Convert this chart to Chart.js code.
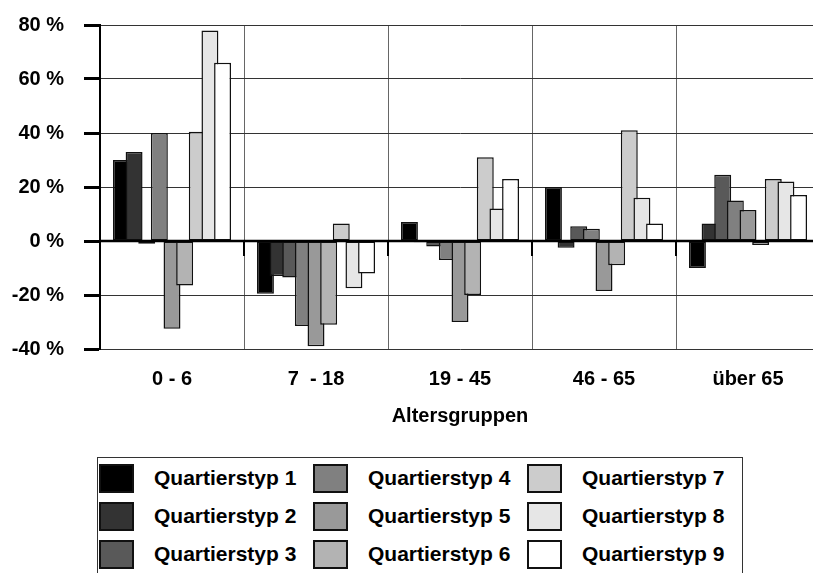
<!DOCTYPE html>
<html lang="de">
<head>
<meta charset="utf-8">
<title>Altersgruppen nach Quartierstyp</title>
<script src="https://cdn.jsdelivr.net/npm/chart.js@4/dist/chart.umd.min.js"></script>
<style>
  html, body {
    margin: 0;
    width: 813px;
    height: 573px;
    overflow: hidden;
    background: #fff;
    font-family: "Liberation Sans", Arial, Helvetica, sans-serif;
  }
  #wrap { position: relative; width: 813px; height: 573px; }
  #chart { position: absolute; left: 0; top: 0; }
  #legend {
    position: absolute;
    left: 97px;
    top: 457px;
    width: 646px;
    height: 130px;
    box-sizing: border-box;
    border: 1px solid #333;
    padding: 1px 0 0 1px;
    display: grid;
    grid-template-columns: repeat(3, 214px);
    grid-template-rows: repeat(3, 38px);
    grid-auto-flow: column;
  }
  .item { display: flex; align-items: center; }
  .swatch {
    width: 35px;
    height: 29px;
    box-sizing: border-box;
    border: 2px solid #111;
    margin-right: 20px;
  }
  .item span { font-weight: bold; font-size: 21px; color: #000; }
</style>
</head>
<body>
<div id="wrap">
  <canvas id="chart" width="840" height="428"></canvas>
  <div id="legend"></div>
</div>
<script>
// Altersgruppen (x axis)
const ageGroups = ["0 - 6", "7  - 18", "19 - 45", "46 - 65", "über 65"];

// Quartierstypen and their grey shades
const typeNames = [
  "Quartierstyp 1", "Quartierstyp 2", "Quartierstyp 3",
  "Quartierstyp 4", "Quartierstyp 5", "Quartierstyp 6",
  "Quartierstyp 7", "Quartierstyp 8", "Quartierstyp 9"
];
const typeColors = [
  "#000000", "#333333", "#595959",
  "#808080", "#999999", "#b3b3b3",
  "#cccccc", "#e6e6e6", "#ffffff"
];

// change in percent per Quartierstyp, one value per age group
const type1 = [30, -19.5, 7, 20, -10];
const type2 = [33, -13, -0.5, -2.5, 6.5];
const type3 = [-1, -13.5, -2, 5.5, 24.5];
const type4 = [40, -31.5, -7, 4.5, 15];
const type5 = [-32.5, -39, -30, -18.5, 11.5];
const type6 = [-16.5, -31, -20, -9, -1.5];
const type7 = [40.5, 6.5, 31, 41, 23];
const type8 = [78, -17.5, 12, 16, 22];
const type9 = [66, -12, 23, 6.5, 17];
const typeValues = [type1, type2, type3, type4, type5, type6, type7, type8, type9];

// y axis ticks
const yMin = -40;
const yMax = 80;
const yStep = 20;

// bars overlap like the spreadsheet original, later series on top;
// the zero line with its short tick marks is drawn over the bars
const overlapPlugin = {
  id: "overlapOrder",
  beforeDatasetsDraw(chart) {
    const ctx = chart.ctx;
    const area = chart.chartArea;
    ctx.save();
    ctx.beginPath();
    ctx.rect(area.left, area.top, area.right - area.left, area.bottom - area.top);
    ctx.clip();
    chart.getSortedVisibleDatasetMetas().forEach(meta => meta.controller.draw());
    ctx.restore();

    const x = chart.scales.x;
    const y0 = Math.round(chart.scales.y.getPixelForValue(0));
    ctx.save();
    ctx.strokeStyle = "#000";
    ctx.lineWidth = 2.5;
    ctx.beginPath();
    ctx.moveTo(area.left, y0);
    ctx.lineTo(area.right, y0);
    ctx.stroke();
    ctx.lineWidth = 2;
    for (let i = 0; i <= ageGroups.length; i++) {
      const px = Math.round(x.getPixelForValue(i - 0.5));
      ctx.beginPath();
      ctx.moveTo(px, y0);
      ctx.lineTo(px, y0 + 15);
      ctx.stroke();
    }
    ctx.restore();
    return false;
  }
};

const labelFont = { family: "'Liberation Sans', Arial, sans-serif", size: 20, weight: "bold" };

const ctx = document.getElementById("chart").getContext("2d");
new Chart(ctx, {
  type: "bar",
  data: {
    labels: ageGroups,
    datasets: typeNames.map((name, i) => ({
      label: name,
      data: typeValues[i],
      backgroundColor: typeColors[i],
      borderColor: "#111",
      borderWidth: 1.5,
      borderSkipped: false,
      barPercentage: 1.34,
      categoryPercentage: 0.79
    }))
  },
  options: {
    responsive: false,
    animation: false,
    devicePixelRatio: 1,
    layout: { padding: { top: 25, left: 12, right: 20, bottom: 0 } },
    plugins: {
      legend: { display: false },
      tooltip: { enabled: false }
    },
    scales: {
      x: {
        grid: { color: "#666", lineWidth: 1, drawTicks: false },
        border: { display: false },
        ticks: { color: "#000", font: labelFont, padding: 18, maxRotation: 0 },
        title: {
          display: true,
          text: "Altersgruppen",
          color: "#000",
          font: labelFont,
          padding: { top: 13, bottom: 0 }
        },
        // labels + title band under the plot
        afterFit(scale) {
          scale.height = 79;
        }
      },
      y: {
        min: yMin,
        max: yMax,
        grid: { color: "#333", lineWidth: 1, tickLength: 16, tickColor: "#000", tickWidth: 3 },
        border: { display: true, color: "#000", width: 2 },
        ticks: {
          stepSize: yStep,
          color: "#000",
          font: labelFont,
          padding: 20,
          callback: v => v + " %"
        },
        // fixed axis width, no extra room above/below the plot
        afterFit(scale) {
          scale.width = 88;
          scale.paddingTop = 0;
          scale.paddingBottom = 0;
        }
      }
    }
  },
  plugins: [overlapPlugin]
});

// legend box, filled column by column
const legend = document.getElementById("legend");
typeNames.forEach((name, i) => {
  const item = document.createElement("div");
  item.className = "item";
  const sw = document.createElement("div");
  sw.className = "swatch";
  sw.style.background = typeColors[i];
  const txt = document.createElement("span");
  txt.textContent = name;
  item.appendChild(sw);
  item.appendChild(txt);
  legend.appendChild(item);
});
</script>
</body>
</html>
